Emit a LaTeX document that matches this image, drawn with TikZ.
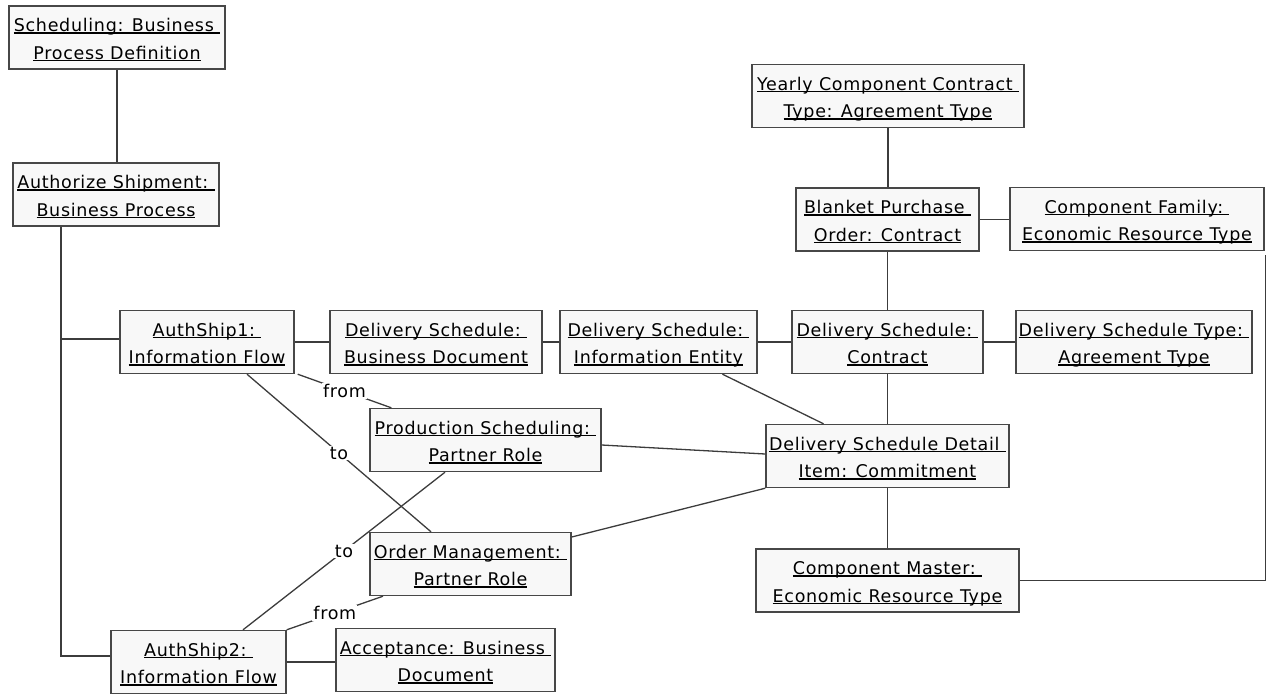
\documentclass[tikz,border=0pt]{standalone}
\usepackage{fontspec}
\setmainfont{DejaVu Sans}[LetterSpace=4]
\definecolor{boxline}{HTML}{474747}
\definecolor{boxfill}{HTML}{F8F8F8}
\definecolor{linkc}{HTML}{3C3C3C}
% underlined text with the rule just under the baseline
\newcommand{\ulin}[1]{\setbox0=\hbox{#1}\rlap{\rule[-2.2pt]{\wd0}{1.4pt}}\box0}
% two centred, underlined lines at fixed baselines inside a 63pt box
\newcommand{\two}[2]{\vbox to 63pt{\offinterlineskip\halign{\hfil##\hfil\cr
  \vrule height 25.5pt depth 0pt width 0pt\smash{\ulin{#1}}\cr
  \vrule height 27.5pt depth 0pt width 0pt\smash{\ulin{#2}}\cr}\vss}}
\begin{document}
\begin{tikzpicture}[x=1pt,y=-1pt,
  every node/.style={font=\fontsize{17.5}{20}\selectfont},
  obj/.style={rectangle, draw=boxline, fill=boxfill, line width=1.4pt,
    inner sep=0pt, minimum height=63pt},
  wire/.style={draw=linkc, line width=1.3pt},
  role/.style={fill=white, inner sep=1pt}]
\useasboundingbox (0,0) rectangle (1274,694);

% objects
\node[obj, minimum width=216pt] (sched) at (117,37.5) {\two{Scheduling: Business\ }{Process Definition}};
\node[obj, minimum width=206pt] (authz) at (116,194.5) {\two{Authorize Shipment:\ }{Business Process}};
\node[obj, minimum width=174pt] (as1) at (207,342) {\two{AuthShip1:\ }{Information Flow}};
\node[obj, minimum width=212pt] (dsbd) at (436,342) {\two{Delivery Schedule:\ }{Business Document}};
\node[obj, minimum width=197pt] (dsie) at (658.5,342) {\two{Delivery Schedule:\ }{Information Entity}};
\node[obj, minimum width=191pt] (dsc) at (887.5,342) {\two{Delivery Schedule:\ }{Contract}};
\node[obj, minimum width=236pt] (dst) at (1134,342) {\two{Delivery Schedule Type:\ }{Agreement Type}};
\node[obj, minimum width=272pt] (ycc) at (888,96) {\two{Yearly Component Contract\ }{Type: Agreement Type}};
\node[obj, minimum width=183pt] (bpo) at (887.5,219.5) {\two{Blanket Purchase\ }{Order: Contract}};
\node[obj, minimum width=254pt] (cf) at (1137,219) {\two{Component Family:\ }{Economic Resource Type}};
\node[obj, minimum width=231pt] (ps) at (485.5,440) {\two{Production Scheduling:\ }{Partner Role}};
\node[obj, minimum width=243pt] (dsd) at (887.5,456) {\two{Delivery Schedule Detail\ }{Item: Commitment}};
\node[obj, minimum width=201pt] (om) at (470.5,564) {\two{Order Management:\ }{Partner Role}};
\node[obj, minimum width=263pt] (cm) at (887.5,580.5) {\two{Component Master:\ }{Economic Resource Type}};
\node[obj, minimum width=175pt] (as2) at (198.5,662) {\two{AuthShip2:\ }{Information Flow}};
\node[obj, minimum width=219pt] (acc) at (445.5,660) {\two{Acceptance: Business\ }{Document}};

% attachment points off the anchors
\coordinate (tk) at (61,0);
\coordinate (as1in) at ([yshift=3pt]as1.west);
\coordinate (as2in) at ([yshift=6pt]as2.west);
\coordinate (cfend) at ([xshift=1pt,yshift=-4pt]cf.south east);

% trunk on the left
\draw[wire] (sched.south) -- (sched.south |- authz.north);
\draw[wire] (authz.south -| tk) -- (tk |- as2in) -- (as2in);
\draw[wire] (tk |- as1in) -- (as1in);

% horizontal chain
\draw[wire] (as1.east) -- (dsbd.west);
\draw[wire] (dsbd.east) -- (dsie.west);
\draw[wire] (dsie.east) -- (dsc.west);
\draw[wire] (dsc.east) -- (dst.west);
\draw[wire] (as2.east) -- (as2.east -| acc.west);

% vertical spine on the right
\draw[wire] (ycc.south) -- (ycc.south |- bpo.north);
\draw[wire] (bpo.east) -- (bpo.east -| cf.west);
\draw[wire] (bpo.south) -- (dsc.north);
\draw[wire] (dsc.south) -- (dsd.north);
\draw[wire] (dsd.south) -- (cm.north);
\draw[wire] (cm.east) -- (cm.east -| cfend) -- (cfend);

% links to the detail item
\draw[wire] ([xshift=64pt]dsie.south) -- ([xshift=-64pt]dsd.north);
\draw[wire] ([yshift=-5pt]ps.east) -- ([yshift=2pt]dsd.west);
\draw[wire] ([yshift=27pt]om.east) -- (dsd.south west);

% partner role links
\draw[wire] ([xshift=3pt]as1.south east) -- node[role] {from} ([xshift=22pt]ps.north west);
\draw[wire] ([xshift=40pt]as1.south) -- node[role] {to} ([xshift=-39.5pt]om.north);
\draw[wire] ([xshift=-40.5pt]ps.south) -- node[role] {to} ([xshift=44.5pt]as2.north);
\draw[wire] ([xshift=-87.5pt]om.south) -- node[role] {from} (as2.north east);
\end{tikzpicture}
\end{document}
